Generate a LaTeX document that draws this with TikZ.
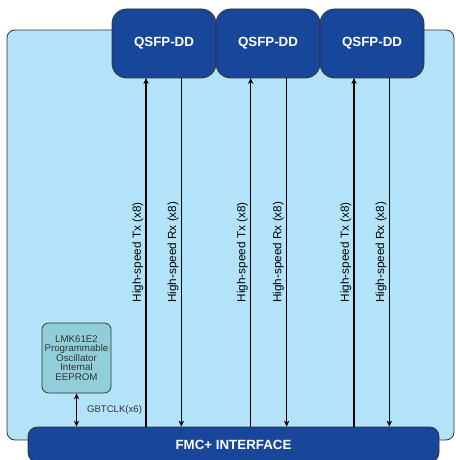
\documentclass[tikz,border=0pt]{standalone}
\usepackage{fontspec}
\setmainfont{Liberation Sans}
\usetikzlibrary{positioning,arrows.meta}
\definecolor{panelblue}{HTML}{B2E3F8}
\definecolor{darkblue}{HTML}{17469A}
\definecolor{oscteal}{HTML}{90CFD9}
\definecolor{textgray}{HTML}{333333}
\begin{document}
\begin{tikzpicture}[x=0.75pt, y=-0.75pt,
		qsfp/.style={draw=black!80, line width=0.6pt, fill=darkblue, rounded corners=11pt, minimum width=78pt, minimum height=51.75pt, inner sep=0pt, outer sep=0pt, text=white, font=\fontsize{10}{12}\selectfont\bfseries},
		fmcbox/.style={draw=black!80, line width=0.6pt, fill=darkblue, rounded corners=7pt, minimum width=308.25pt, minimum height=26.25pt, inner sep=0pt, text=white, font=\fontsize{10}{12}\selectfont\bfseries},
		oscbox/.style={draw=black!80, line width=0.6pt, fill=oscteal, rounded corners=5pt, minimum width=51.75pt, minimum height=52.5pt, inner sep=0pt, align=center, text=textgray, font=\fontsize{7.3}{7.2}\selectfont},
		link/.style={line width=1.2pt, -{Stealth[length=4.5pt,width=4pt]}},
		lanelabel/.style={rotate=90, anchor=south, inner sep=1.5pt, font=\fontsize{8.8}{10}\selectfont},
		node distance=0pt
		]
	\useasboundingbox (0,0) rectangle (455,460);
	\draw[fill=panelblue, draw=black!80, line width=0.6pt, rounded corners=6pt] (7,30) rectangle (454,440);
	\node [qsfp] (q1) at (164,43.5) {QSFP-DD};
	\node [qsfp, right=of q1] (q2) {QSFP-DD};
	\node [qsfp, right=of q2] (q3) {QSFP-DD};
	\node [fmcbox] (fmc) at (233.5,444.5) {FMC+ INTERFACE};
	\node [oscbox] (osc) at (76.5,358) {LMK61E2\\Programmable\\Oscillator\\Internal\\EEPROM};
	\draw [link] ([xshift=-13.5pt]q1.south |- fmc.north) -- node [lanelabel] {High-speed Tx (x8)} ([xshift=-13.5pt]q1.south);
	\draw [link] ([xshift=13pt]q1.south) -- node [lanelabel] {High-speed Rx (x8)} ([xshift=13pt]q1.south |- fmc.north);
	\draw [link] ([xshift=-13pt]q2.south |- fmc.north) -- node [lanelabel] {High-speed Tx (x8)} ([xshift=-13pt]q2.south);
	\draw [link] ([xshift=14pt]q2.south) -- node [lanelabel] {High-speed Rx (x8)} ([xshift=14pt]q2.south |- fmc.north);
	\draw [link] ([xshift=-13.5pt]q3.south |- fmc.north) -- node [lanelabel] {High-speed Tx (x8)} ([xshift=-13.5pt]q3.south);
	\draw [link] ([xshift=13pt]q3.south) -- node [lanelabel] {High-speed Rx (x8)} ([xshift=13pt]q3.south |- fmc.north);
	\draw [link, {Stealth[length=4.5pt,width=4pt]}-{Stealth[length=4.5pt,width=4pt]}] (osc.south) -- node [right=4pt, font=\fontsize{7.2}{9}\selectfont, text=textgray] {GBTCLK(x6)} (osc.south |- fmc.north);
\end{tikzpicture}
\end{document}
